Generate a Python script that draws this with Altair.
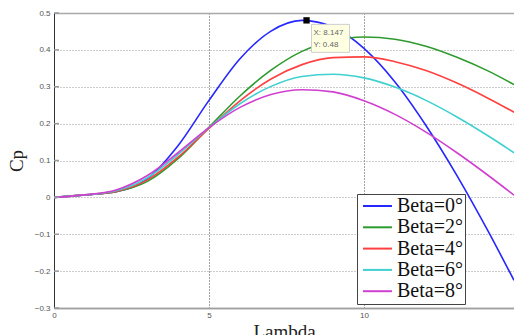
import altair as alt
import pandas as pd

lam = [0, 1, 2, 3, 4, 5, 6, 7, 8, 9, 10, 11, 12, 13, 14, 14.84]
cp_b0 = [0.0, 0.0068, 0.0151, 0.0496, 0.140, 0.263, 0.376, 0.451, 0.480, 0.462, 0.404, 0.313, 0.195, 0.059, -0.091, -0.225]
cp_b2 = [0.0, 0.0068, 0.0152, 0.0426, 0.105, 0.190, 0.275, 0.345, 0.396, 0.425, 0.435, 0.429, 0.410, 0.380, 0.343, 0.306]
cp_b4 = [0.0, 0.0068, 0.0163, 0.0469, 0.109, 0.187, 0.262, 0.321, 0.360, 0.379, 0.381, 0.368, 0.344, 0.310, 0.269, 0.231]
cp_b6 = [0.0, 0.0068, 0.0179, 0.0526, 0.116, 0.189, 0.254, 0.301, 0.328, 0.334, 0.324, 0.299, 0.263, 0.218, 0.167, 0.121]
cp_b8 = [0.0, 0.0069, 0.0201, 0.0587, 0.121, 0.189, 0.244, 0.279, 0.292, 0.286, 0.262, 0.225, 0.177, 0.121, 0.060, 0.006]
series_names = ["Beta=0°", "Beta=2°", "Beta=4°", "Beta=6°", "Beta=8°"]
series_colors = ["#2626ff", "#2e9b2e", "#ff4040", "#40d0d0", "#d040d0"]
y_ticks = [-0.3, -0.2, -0.1, 0, 0.1, 0.2, 0.3, 0.4, 0.5]
x_ticks = [0, 5, 10]
tip_x = [8.147]
tip_y = [0.48]
tip_label = ["X: 8.147\nY: 0.48"]

rows = []
for name, vals in zip(series_names, [cp_b0, cp_b2, cp_b4, cp_b6, cp_b8]):
    for l, v in zip(lam, vals):
        rows.append({"Lambda": l, "Cp": v, "series": name})
df = pd.DataFrame(rows)
tip = pd.DataFrame({"Lambda": tip_x, "Cp": tip_y, "label": tip_label})
yt = pd.DataFrame({"Cp": y_ticks})

xscale = alt.Scale(domain=[0, 14.84], nice=False, zero=False)
yscale = alt.Scale(domain=[-0.3, 0.5], nice=False)
edge = "datum.value >= 0.49 || datum.value <= -0.29"

x_axis = alt.Axis(values=x_ticks, title="Lambda", format="d",
                  labelFont="Liberation Sans", labelFontSize=8, labelColor="#555",
                  labelOverlap=False, labelBound=False, labelFlush=False,
                  tickSize=0, labelPadding=3,
                  domainColor="#a0a0a0", domainWidth=1.5,
                  grid=True, gridColor="#444", gridDash=[1, 2], gridWidth=1,
                  titleFont="Liberation Serif", titleFontSize=19, titleFontWeight="normal",
                  titleColor="#222", titlePadding=3)
y_axis = alt.Axis(values=y_ticks, title="Cp", format="~g",
                  labelFont="Liberation Sans", labelFontSize=8, labelColor="#555",
                  labelOverlap=False, labelBound=False, labelFlush=False,
                  tickSize=0, labelPadding=4,
                  domainColor="#333", domainWidth=1,
                  grid=True,
                  gridColor={"condition": {"test": edge, "value": "#a8a8a8"}, "value": "#999"},
                  gridDash={"condition": {"test": edge, "value": []}, "value": [1, 2]},
                  gridWidth={"condition": {"test": edge, "value": 1.5}, "value": 1},
                  titleFont="Liberation Serif", titleFontSize=19, titleFontWeight="normal",
                  titleColor="#222", titlePadding=8)

X = alt.X("Lambda:Q", scale=xscale, axis=x_axis)
Y = alt.Y("Cp:Q", scale=yscale, axis=y_axis)

lines = alt.Chart(df).mark_line(strokeWidth=1.6, interpolate="monotone", clip=True).encode(
    x=X, y=Y,
    color=alt.Color("series:N",
                    scale=alt.Scale(domain=series_names, range=series_colors),
                    legend=alt.Legend(title=None, orient="none", legendX=303, legendY=181,
                                      symbolType="M-0.67,0H2.55", symbolSize=324, symbolStrokeWidth=2,
                                      labelFont="Liberation Serif", labelFontSize=20, labelColor="#111",
                                      fillColor="white", strokeColor="#444", padding=2,
                                      rowPadding=1.3, labelOffset=18)),
)

yticks = alt.Chart(yt).mark_rule(color="#9a9a9a", strokeWidth=1.5).encode(
    y=Y, x=alt.value(0), x2=alt.value(5))

box = alt.Chart(tip).mark_rect(width=38, height=28, xOffset=24, yOffset=18,
                               fill="#ffffe1", stroke="#cfcfcf", strokeWidth=1).encode(x=X, y=Y)
marker = alt.Chart(tip).mark_square(size=40, color="black", opacity=1).encode(x=X, y=Y)
txt = alt.Chart(tip).mark_text(align="left", baseline="top", dx=7, dy=9, lineBreak="\n",
                               lineHeight=12, fontSize=8, font="Liberation Sans", color="#666").encode(
    x=X, y=Y, text="label:N")

chart = alt.layer(lines, yticks, box, marker, txt).properties(
    width=460, height=295,
    autosize=alt.AutoSizeParams(type="none"),
    padding={"left": 54, "top": 13, "right": 0, "bottom": 27},
).configure_view(stroke=None).configure(background="white")

chart.save("out.html", embed_options={"renderer": "svg", "actions": False})
